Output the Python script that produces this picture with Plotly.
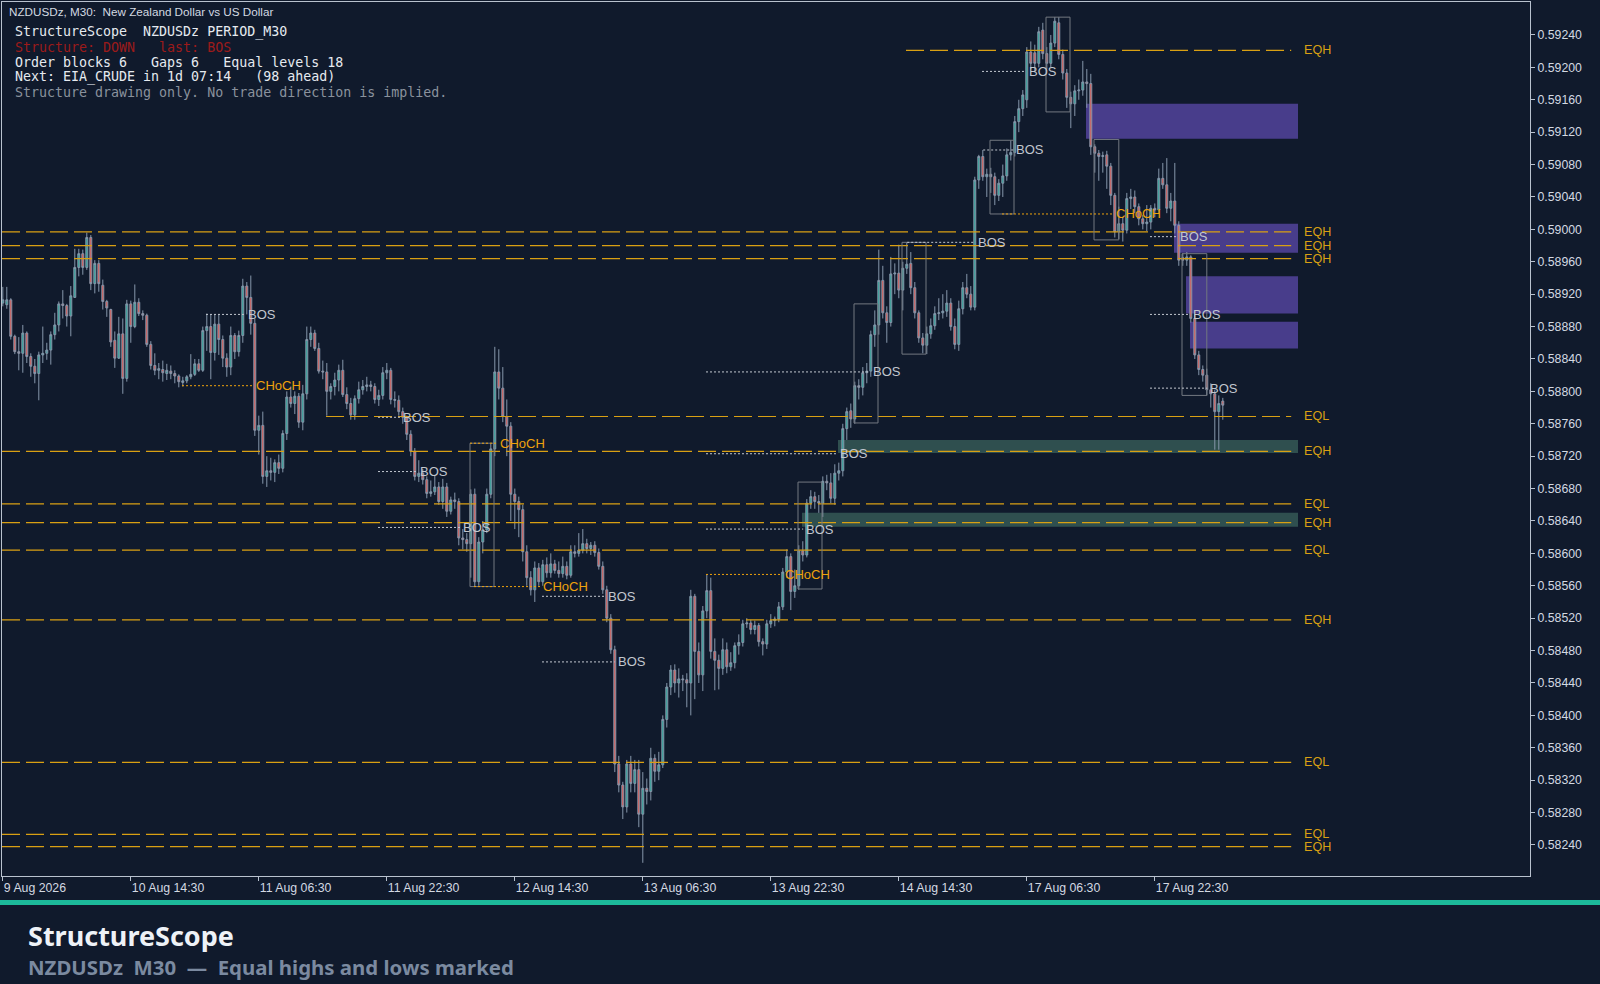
import plotly.graph_objects as go

# ---- look ----
BG = "#101a2c"
BULL = "#2aa597"
BEAR = "#e0584f"
WICK = "#8797ab"
EQ_COL = "#d9a013"
CHOCH_COL = "#eea20c"
BOS_COL = "#c2c7cf"
BOX_COL = "#737880"
AXIS_COL = "#b9c2cf"
TEXT_COL = "#d3d9e2"

W, H = 1600, 984
L_M, R_M, T_M, B_M = 2, 70, 2, 108
PW, PH = W - L_M - R_M, H - T_M - B_M

# ---- NZDUSDz M30 candles (bar index 0 = 9 Aug 22:30) ----
open_ = [
    0.58909, 0.58907, 0.58913, 0.58868, 0.58849, 0.58847, 0.58872, 0.58843, 0.58831, 0.58822,
    0.58845, 0.58847, 0.58851, 0.58870, 0.58882, 0.58908, 0.58906, 0.58893, 0.58916, 0.58953,
    0.58970, 0.58953, 0.58990, 0.58933, 0.58958, 0.58931, 0.58911, 0.58901, 0.58863, 0.58841,
    0.58871, 0.58816, 0.58908, 0.58880, 0.58910, 0.58896, 0.58894, 0.58858, 0.58832, 0.58826,
    0.58827, 0.58822, 0.58825, 0.58822, 0.58819, 0.58811, 0.58813, 0.58818, 0.58821, 0.58834,
    0.58826, 0.58875, 0.58880, 0.58848, 0.58883, 0.58864, 0.58841, 0.58830, 0.58869, 0.58849,
    0.58869, 0.58930, 0.58916, 0.58884, 0.58752, 0.58758, 0.58695, 0.58702, 0.58700, 0.58712,
    0.58705, 0.58748, 0.58793, 0.58785, 0.58794, 0.58762, 0.58797, 0.58864, 0.58872, 0.58853,
    0.58825, 0.58824, 0.58800, 0.58806, 0.58814, 0.58826, 0.58796, 0.58785, 0.58771, 0.58791,
    0.58802, 0.58806, 0.58808, 0.58806, 0.58790, 0.58795, 0.58823, 0.58826, 0.58790, 0.58789,
    0.58775, 0.58768, 0.58747, 0.58726, 0.58695, 0.58699, 0.58691, 0.58674, 0.58676, 0.58682,
    0.58664, 0.58682, 0.58652, 0.58666, 0.58664, 0.58619, 0.58617, 0.58612, 0.58673, 0.58565,
    0.58614, 0.58629, 0.58673, 0.58729, 0.58824, 0.58804, 0.58769, 0.58757, 0.58673, 0.58664,
    0.58654, 0.58602, 0.58570, 0.58555, 0.58582, 0.58565, 0.58586, 0.58576, 0.58587, 0.58579,
    0.58575, 0.58584, 0.58573, 0.58602, 0.58600, 0.58604, 0.58612, 0.58606, 0.58610, 0.58601,
    0.58584, 0.58555, 0.58520, 0.58481, 0.58340, 0.58314, 0.58287, 0.58340, 0.58316, 0.58333,
    0.58278, 0.58310, 0.58306, 0.58347, 0.58331, 0.58339, 0.58395, 0.58435, 0.58456, 0.58440,
    0.58445, 0.58444, 0.58440, 0.58547, 0.58479, 0.58450, 0.58529, 0.58554, 0.58479, 0.58468,
    0.58458, 0.58481, 0.58460, 0.58465, 0.58486, 0.58490, 0.58513, 0.58514, 0.58506, 0.58511,
    0.58491, 0.58488, 0.58513, 0.58517, 0.58519, 0.58534, 0.58577, 0.58596, 0.58553, 0.58560,
    0.58603, 0.58598, 0.58662, 0.58670, 0.58664, 0.58662, 0.58689, 0.58687, 0.58668, 0.58699,
    0.58702, 0.58754, 0.58776, 0.58766, 0.58807, 0.58805, 0.58823, 0.58825, 0.58870, 0.58882,
    0.58937, 0.58897, 0.58885, 0.58945, 0.58946, 0.58925, 0.58952, 0.58958, 0.58928, 0.58897,
    0.58866, 0.58857, 0.58871, 0.58881, 0.58896, 0.58897, 0.58899, 0.58909, 0.58880, 0.58858,
    0.58902, 0.58928, 0.58920, 0.58904, 0.59061, 0.59090, 0.59065, 0.59068, 0.59065, 0.59042,
    0.59057, 0.59066, 0.59092, 0.59095, 0.59133, 0.59149, 0.59160, 0.59219, 0.59218, 0.59205,
    0.59246, 0.59217, 0.59205, 0.59230, 0.59255, 0.59216, 0.59193, 0.59163, 0.59155, 0.59171,
    0.59172, 0.59182, 0.59180, 0.59102, 0.59094, 0.59090, 0.59092, 0.59078, 0.59042, 0.58997,
    0.59007, 0.58999, 0.59038, 0.59040, 0.59028, 0.59013, 0.59007, 0.59009, 0.59026, 0.59024,
    0.59063, 0.59055, 0.59026, 0.59035, 0.59005, 0.58965, 0.58962, 0.58966, 0.58890, 0.58845,
    0.58827, 0.58820, 0.58802, 0.58797, 0.58775, 0.58788,
]
high = [
    0.58929, 0.58929, 0.58915, 0.58870, 0.58867, 0.58882, 0.58874, 0.58847, 0.58840, 0.58849,
    0.58880, 0.58860, 0.58874, 0.58897, 0.58911, 0.58925, 0.58908, 0.58930, 0.58976, 0.58976,
    0.58975, 0.58996, 0.58993, 0.58962, 0.58962, 0.58938, 0.58913, 0.58902, 0.58874, 0.58892,
    0.58890, 0.58913, 0.58912, 0.58932, 0.58915, 0.58900, 0.58896, 0.58862, 0.58847, 0.58835,
    0.58838, 0.58834, 0.58832, 0.58826, 0.58821, 0.58818, 0.58820, 0.58846, 0.58840, 0.58840,
    0.58880, 0.58896, 0.58895, 0.58895, 0.58895, 0.58869, 0.58847, 0.58880, 0.58872, 0.58875,
    0.58939, 0.58935, 0.58943, 0.58890, 0.58770, 0.58775, 0.58720, 0.58718, 0.58716, 0.58722,
    0.58752, 0.58800, 0.58806, 0.58800, 0.58798, 0.58808, 0.58880, 0.58880, 0.58876, 0.58860,
    0.58838, 0.58835, 0.58810, 0.58823, 0.58833, 0.58839, 0.58805, 0.58792, 0.58795, 0.58812,
    0.58814, 0.58818, 0.58813, 0.58810, 0.58802, 0.58830, 0.58835, 0.58829, 0.58800, 0.58795,
    0.58780, 0.58770, 0.58752, 0.58730, 0.58715, 0.58704, 0.58695, 0.58690, 0.58696, 0.58688,
    0.58692, 0.58687, 0.58670, 0.58675, 0.58668, 0.58630, 0.58625, 0.58679, 0.58680, 0.58620,
    0.58640, 0.58680, 0.58735, 0.58855, 0.58852, 0.58830, 0.58790, 0.58762, 0.58680, 0.58670,
    0.58660, 0.58610, 0.58578, 0.58590, 0.58588, 0.58592, 0.58595, 0.58600, 0.58592, 0.58590,
    0.58596, 0.58590, 0.58610, 0.58610, 0.58625, 0.58630, 0.58618, 0.58614, 0.58615, 0.58606,
    0.58590, 0.58560, 0.58525, 0.58486, 0.58350, 0.58318, 0.58345, 0.58350, 0.58345, 0.58345,
    0.58330, 0.58322, 0.58360, 0.58352, 0.58355, 0.58400, 0.58440, 0.58462, 0.58463, 0.58458,
    0.58450, 0.58452, 0.58555, 0.58550, 0.58490, 0.58535, 0.58574, 0.58570, 0.58495, 0.58475,
    0.58495, 0.58490, 0.58478, 0.58490, 0.58500, 0.58518, 0.58520, 0.58518, 0.58517, 0.58514,
    0.58495, 0.58518, 0.58525, 0.58522, 0.58540, 0.58582, 0.58605, 0.58600, 0.58580, 0.58610,
    0.58615, 0.58667, 0.58678, 0.58676, 0.58672, 0.58695, 0.58697, 0.58699, 0.58710, 0.58712,
    0.58760, 0.58780, 0.58785, 0.58812, 0.58815, 0.58830, 0.58835, 0.58875, 0.58900, 0.58975,
    0.58955, 0.58905, 0.58966, 0.58958, 0.58981, 0.58960, 0.58984, 0.58972, 0.58935, 0.58900,
    0.58872, 0.58880, 0.58890, 0.58905, 0.58915, 0.58920, 0.58925, 0.58915, 0.58890, 0.58912,
    0.58935, 0.58945, 0.58930, 0.59065, 0.59092, 0.59098, 0.59075, 0.59076, 0.59070, 0.59062,
    0.59080, 0.59100, 0.59110, 0.59140, 0.59160, 0.59172, 0.59225, 0.59232, 0.59228, 0.59250,
    0.59255, 0.59225, 0.59240, 0.59262, 0.59262, 0.59222, 0.59198, 0.59170, 0.59178, 0.59185,
    0.59208, 0.59198, 0.59192, 0.59105, 0.59098, 0.59096, 0.59097, 0.59082, 0.59045, 0.59028,
    0.59015, 0.59045, 0.59050, 0.59048, 0.59032, 0.59018, 0.59030, 0.59030, 0.59032, 0.59075,
    0.59082, 0.59088, 0.59045, 0.59082, 0.59010, 0.58970, 0.58972, 0.58968, 0.58895, 0.58850,
    0.58832, 0.58828, 0.58810, 0.58802, 0.58795, 0.58792,
]
low = [
    0.58905, 0.58902, 0.58864, 0.58846, 0.58826, 0.58823, 0.58835, 0.58818, 0.58810, 0.58789,
    0.58835, 0.58839, 0.58833, 0.58864, 0.58874, 0.58890, 0.58880, 0.58868, 0.58916, 0.58942,
    0.58944, 0.58950, 0.58925, 0.58921, 0.58923, 0.58901, 0.58892, 0.58855, 0.58829, 0.58840,
    0.58797, 0.58812, 0.58860, 0.58878, 0.58893, 0.58888, 0.58855, 0.58827, 0.58820, 0.58815,
    0.58812, 0.58814, 0.58815, 0.58810, 0.58805, 0.58806, 0.58810, 0.58815, 0.58819, 0.58824,
    0.58824, 0.58850, 0.58815, 0.58838, 0.58845, 0.58830, 0.58818, 0.58820, 0.58840, 0.58843,
    0.58860, 0.58895, 0.58870, 0.58745, 0.58722, 0.58686, 0.58682, 0.58690, 0.58688, 0.58698,
    0.58700, 0.58740, 0.58780, 0.58772, 0.58755, 0.58752, 0.58790, 0.58855, 0.58850, 0.58822,
    0.58815, 0.58770, 0.58790, 0.58795, 0.58800, 0.58793, 0.58778, 0.58765, 0.58765, 0.58785,
    0.58796, 0.58800, 0.58800, 0.58785, 0.58782, 0.58790, 0.58815, 0.58784, 0.58780, 0.58770,
    0.58760, 0.58740, 0.58720, 0.58690, 0.58688, 0.58685, 0.58668, 0.58670, 0.58672, 0.58660,
    0.58655, 0.58645, 0.58648, 0.58655, 0.58610, 0.58605, 0.58602, 0.58570, 0.58559, 0.58560,
    0.58600, 0.58625, 0.58668, 0.58720, 0.58790, 0.58762, 0.58720, 0.58640, 0.58630, 0.58620,
    0.58590, 0.58560, 0.58548, 0.58540, 0.58560, 0.58560, 0.58570, 0.58570, 0.58575, 0.58570,
    0.58570, 0.58568, 0.58570, 0.58595, 0.58596, 0.58600, 0.58600, 0.58598, 0.58596, 0.58580,
    0.58550, 0.58515, 0.58476, 0.58330, 0.58305, 0.58272, 0.58280, 0.58305, 0.58305, 0.58262,
    0.58218, 0.58290, 0.58295, 0.58318, 0.58320, 0.58335, 0.58385, 0.58425, 0.58428, 0.58422,
    0.58430, 0.58410, 0.58400, 0.58420, 0.58440, 0.58430, 0.58520, 0.58470, 0.58431, 0.58432,
    0.58450, 0.58452, 0.58455, 0.58458, 0.58475, 0.58485, 0.58508, 0.58500, 0.58500, 0.58485,
    0.58474, 0.58482, 0.58508, 0.58510, 0.58515, 0.58530, 0.58570, 0.58530, 0.58545, 0.58555,
    0.58590, 0.58595, 0.58655, 0.58655, 0.58650, 0.58645, 0.58678, 0.58662, 0.58660, 0.58690,
    0.58695, 0.58740, 0.58755, 0.58760, 0.58790, 0.58795, 0.58810, 0.58818, 0.58855, 0.58870,
    0.58890, 0.58860, 0.58880, 0.58920, 0.58915, 0.58900, 0.58945, 0.58920, 0.58890, 0.58860,
    0.58847, 0.58846, 0.58865, 0.58876, 0.58888, 0.58890, 0.58892, 0.58875, 0.58852, 0.58850,
    0.58895, 0.58915, 0.58900, 0.58900, 0.59050, 0.59060, 0.59040, 0.59045, 0.59030, 0.59035,
    0.59040, 0.59060, 0.59085, 0.59090, 0.59120, 0.59140, 0.59150, 0.59198, 0.59195, 0.59200,
    0.59210, 0.59198, 0.59200, 0.59225, 0.59210, 0.59185, 0.59150, 0.59125, 0.59140, 0.59160,
    0.59165, 0.59150, 0.59092, 0.59070, 0.59060, 0.59070, 0.59050, 0.59030, 0.58990, 0.58988,
    0.58985, 0.58995, 0.59025, 0.59020, 0.59005, 0.59000, 0.58998, 0.59000, 0.59015, 0.59020,
    0.59050, 0.59020, 0.59010, 0.58995, 0.58955, 0.58955, 0.58955, 0.58885, 0.58840, 0.58820,
    0.58812, 0.58795, 0.58780, 0.58728, 0.58728, 0.58765,
]
close = [
    0.58913, 0.58913, 0.58868, 0.58849, 0.58847, 0.58872, 0.58843, 0.58831, 0.58822, 0.58845,
    0.58847, 0.58851, 0.58870, 0.58882, 0.58908, 0.58906, 0.58893, 0.58918, 0.58953, 0.58970,
    0.58953, 0.58990, 0.58933, 0.58958, 0.58933, 0.58911, 0.58903, 0.58861, 0.58841, 0.58871,
    0.58816, 0.58908, 0.58880, 0.58910, 0.58896, 0.58894, 0.58858, 0.58832, 0.58826, 0.58828,
    0.58823, 0.58826, 0.58822, 0.58819, 0.58812, 0.58813, 0.58818, 0.58821, 0.58834, 0.58826,
    0.58875, 0.58880, 0.58848, 0.58883, 0.58864, 0.58841, 0.58830, 0.58869, 0.58849, 0.58869,
    0.58930, 0.58916, 0.58884, 0.58752, 0.58758, 0.58695, 0.58702, 0.58700, 0.58712, 0.58705,
    0.58748, 0.58793, 0.58785, 0.58794, 0.58762, 0.58797, 0.58864, 0.58872, 0.58853, 0.58825,
    0.58824, 0.58800, 0.58806, 0.58814, 0.58826, 0.58796, 0.58785, 0.58771, 0.58791, 0.58802,
    0.58806, 0.58808, 0.58806, 0.58790, 0.58795, 0.58823, 0.58826, 0.58790, 0.58789, 0.58775,
    0.58768, 0.58747, 0.58726, 0.58695, 0.58699, 0.58691, 0.58674, 0.58676, 0.58682, 0.58664,
    0.58682, 0.58652, 0.58666, 0.58664, 0.58619, 0.58617, 0.58612, 0.58673, 0.58565, 0.58614,
    0.58629, 0.58673, 0.58729, 0.58824, 0.58804, 0.58769, 0.58757, 0.58673, 0.58664, 0.58654,
    0.58602, 0.58570, 0.58555, 0.58582, 0.58565, 0.58586, 0.58576, 0.58587, 0.58579, 0.58575,
    0.58584, 0.58573, 0.58602, 0.58600, 0.58604, 0.58612, 0.58606, 0.58610, 0.58601, 0.58584,
    0.58555, 0.58520, 0.58481, 0.58340, 0.58314, 0.58287, 0.58340, 0.58316, 0.58333, 0.58278,
    0.58310, 0.58306, 0.58347, 0.58331, 0.58339, 0.58395, 0.58435, 0.58456, 0.58440, 0.58445,
    0.58444, 0.58440, 0.58547, 0.58479, 0.58450, 0.58529, 0.58554, 0.58479, 0.58468, 0.58458,
    0.58481, 0.58460, 0.58465, 0.58486, 0.58490, 0.58513, 0.58514, 0.58506, 0.58511, 0.58491,
    0.58488, 0.58513, 0.58517, 0.58519, 0.58534, 0.58577, 0.58596, 0.58553, 0.58560, 0.58603,
    0.58598, 0.58662, 0.58670, 0.58664, 0.58662, 0.58689, 0.58687, 0.58668, 0.58699, 0.58702,
    0.58754, 0.58775, 0.58766, 0.58807, 0.58805, 0.58823, 0.58825, 0.58870, 0.58882, 0.58937,
    0.58897, 0.58885, 0.58945, 0.58946, 0.58925, 0.58952, 0.58957, 0.58928, 0.58897, 0.58866,
    0.58857, 0.58871, 0.58881, 0.58896, 0.58897, 0.58899, 0.58909, 0.58880, 0.58858, 0.58902,
    0.58928, 0.58920, 0.58904, 0.59061, 0.59090, 0.59065, 0.59068, 0.59065, 0.59042, 0.59057,
    0.59066, 0.59092, 0.59095, 0.59133, 0.59149, 0.59166, 0.59219, 0.59205, 0.59205, 0.59244,
    0.59217, 0.59205, 0.59230, 0.59257, 0.59216, 0.59193, 0.59163, 0.59155, 0.59171, 0.59172,
    0.59182, 0.59180, 0.59102, 0.59094, 0.59090, 0.59091, 0.59078, 0.59042, 0.58997, 0.59007,
    0.58999, 0.59038, 0.59040, 0.59028, 0.59013, 0.59007, 0.59009, 0.59026, 0.59024, 0.59063,
    0.59055, 0.59026, 0.59035, 0.59005, 0.58962, 0.58962, 0.58966, 0.58890, 0.58845, 0.58827,
    0.58820, 0.58802, 0.58797, 0.58775, 0.58785, 0.58783,
]

tick_bars = [0, 32, 64, 96, 128, 160, 192, 224, 256, 288]
tick_text = ["9 Aug 2026", "10 Aug 14:30", "11 Aug 06:30", "11 Aug 22:30", "12 Aug 14:30",
             "13 Aug 06:30", "13 Aug 22:30", "14 Aug 14:30", "17 Aug 06:30", "17 Aug 22:30"]
price_ticks = [0.58240, 0.58280, 0.58320, 0.58360, 0.58400, 0.58440, 0.58480, 0.58520,
               0.58560, 0.58600, 0.58640, 0.58680, 0.58720, 0.58760, 0.58800, 0.58840,
               0.58880, 0.58920, 0.58960, 0.59000, 0.59040, 0.59080, 0.59120, 0.59160,
               0.59200, 0.59240]

# equal highs / lows (price, label, first bar of the line)
eq_price = [0.59221, 0.58997, 0.58980, 0.58964, 0.58769, 0.58726, 0.58661,
            0.58638, 0.58604, 0.58518, 0.58342, 0.58253, 0.58238]
eq_label = ["EQH", "EQH", "EQH", "EQH", "EQL", "EQH", "EQL",
            "EQH", "EQL", "EQH", "EQL", "EQL", "EQH"]
eq_from = [225.8, -0.2, -0.2, -0.2, 80.8, -0.2, -0.2,
           -0.2, -0.2, -0.2, -0.2, -0.2, -0.2]
EQ_END, EQ_TEXT = 322.1, 324.8

# structure breaks: kind, level, swing bar, break bar
st_kind = ["BOS", "CHoCH", "BOS", "BOS", "CHoCH", "BOS", "CHoCH", "BOS", "BOS", "CHoCH",
           "BOS", "BOS", "BOS", "BOS", "BOS", "BOS", "CHoCH", "BOS", "BOS", "BOS"]
st_level = [0.58895, 0.58807, 0.58768, 0.58701, 0.58736, 0.58632, 0.58559, 0.58547, 0.58466,
            0.58574, 0.58630, 0.58723, 0.58824, 0.58984, 0.59098, 0.59195, 0.59019, 0.58991,
            0.58895, 0.58804]
st_from = [50.8, 44.8, 93.8, 93.8, 116.8, 93.8, 117.8, 134.8, 134.8, 175.8,
           175.8, 175.8, 175.8, 226.1, 245.1, 244.8, 249.8, 286.8, 286.8, 286.8]
st_to = [60.6, 62.5, 99.3, 103.6, 123.6, 114.3, 134.3, 150.6, 153.0, 194.8,
         200.1, 208.6, 216.8, 243.1, 252.6, 255.8, 277.6, 293.6, 296.8, 301.1]

# order block outlines
ob_from = [260.8, 246.8, 272.8, 294.8, 212.8, 224.8, 198.8, 116.8]
ob_to = [266.8, 252.8, 279.0, 301.0, 218.8, 230.8, 204.8, 122.8]
ob_top = [0.59262, 0.59110, 0.59111, 0.58970, 0.58908, 0.58984, 0.58688, 0.58736]
ob_bot = [0.59145, 0.59019, 0.58987, 0.58795, 0.58761, 0.58846, 0.58556, 0.58559]

# gaps: bearish (purple) and bullish (green)
bear_from = [270.8, 292.8, 295.8, 296.8]
bear_top = [0.59155, 0.59007, 0.58942, 0.58886]
bear_bot = [0.59112, 0.58971, 0.58896, 0.58853]
bull_from = [208.8, 199.8]
bull_top = [0.58740, 0.58650]
bull_bot = [0.58724, 0.58633]
ZONE_END = 323.8

info_lines = [
    ("StructureScope  NZDUSDz PERIOD_M30", "#e6eaf0"),
    ("Structure: DOWN   last: BOS", "#9c1a1a"),
    ("Order blocks 6   Gaps 6   Equal levels 18", "#e6eaf0"),
    ("Next: EIA_CRUDE in 1d 07:14   (98 ahead)", "#e6eaf0"),
    ("Structure drawing only. No trade direction is implied.", "#8a929d"),
]


def px(x, y):
    return (x - L_M) / PW, 1 - (y - T_M) / PH


def nb(s):
    return s.replace(" ", "\u00a0")


bars = list(range(len(close)))
fig = go.Figure(go.Candlestick(
    x=bars, open=open_, high=high, low=low, close=close,
    increasing=dict(line=dict(color=WICK, width=1), fillcolor=BULL),
    decreasing=dict(line=dict(color=WICK, width=1), fillcolor=BEAR),
    whiskerwidth=0, hoverinfo="skip", showlegend=False,
))

shapes, notes = [], []

for x0, t, b in zip(bear_from, bear_top, bear_bot):
    shapes.append(dict(type="rect", x0=x0, x1=ZONE_END, y0=b, y1=t, layer="below",
                       fillcolor="#483d8b", line=dict(width=0)))
for x0, t, b in zip(bull_from, bull_top, bull_bot):
    shapes.append(dict(type="rect", x0=x0, x1=ZONE_END, y0=b, y1=t, layer="below",
                       fillcolor="#2f4f4f", line=dict(width=0)))

for p, lab, x0 in zip(eq_price, eq_label, eq_from):
    shapes.append(dict(type="line", x0=x0, x1=EQ_END, y0=p, y1=p,
                       line=dict(color=EQ_COL, width=1.2, dash="18px,6px")))
    notes.append(dict(x=EQ_TEXT, y=p, text=lab, showarrow=False, xanchor="left",
                      yanchor="middle", font=dict(family="Liberation Sans", size=12.6, color=EQ_COL)))

for x0, x1, t, b in zip(ob_from, ob_to, ob_top, ob_bot):
    shapes.append(dict(type="rect", x0=x0, x1=x1, y0=b, y1=t,
                       line=dict(color=BOX_COL, width=1), fillcolor="rgba(0,0,0,0)"))

for k, lvl, x0, x1 in zip(st_kind, st_level, st_from, st_to):
    col = CHOCH_COL if k == "CHoCH" else BOS_COL
    shapes.append(dict(type="line", x0=x0, x1=x1, y0=lvl, y1=lvl,
                       line=dict(color=col, width=1, dash="2px,2px")))
    notes.append(dict(x=x1, y=lvl, text=k, showarrow=False, xanchor="left", yanchor="middle",
                      xshift=1, font=dict(family="Liberation Sans", size=13, color=col)))

# header + info panel
hx, hy = px(7, 11)
notes.append(dict(x=hx, y=hy, xref="paper", yref="paper", xanchor="left", yanchor="middle",
                  showarrow=False, text=nb("NZDUSDz, M30:  New Zealand Dollar vs US Dollar"),
                  font=dict(family="Liberation Sans", size=11.7, color=TEXT_COL)))
for i, (txt, col) in enumerate(info_lines):
    ix, iy = px(13, 32 + 15 * i)
    notes.append(dict(x=ix, y=iy, xref="paper", yref="paper", xanchor="left", yanchor="middle",
                      showarrow=False, text=nb(txt),
                      font=dict(family="DejaVu Sans Mono", size=13.3, color=col)))

# footer band and titles
bx0, by0 = px(0, 900)
bx1, by1 = px(W, 905)
shapes.append(dict(type="rect", xref="paper", yref="paper", x0=bx0, x1=bx1, y0=by1, y1=by0,
                   fillcolor="#1cb99a", line=dict(width=0)))
tx, ty = px(26, 935)
notes.append(dict(x=tx, y=ty, xref="paper", yref="paper", xanchor="left", yanchor="middle",
                  showarrow=False, text="<b>StructureScope</b>",
                  font=dict(family="Noto Sans", size=27, color="#eef2f7")))
sx, sy = px(26, 967)
notes.append(dict(x=sx, y=sy, xref="paper", yref="paper", xanchor="left", yanchor="middle",
                  showarrow=False, text="<b>" + nb("NZDUSDz  M30  —  Equal highs and lows marked") + "</b>",
                  font=dict(family="Noto Sans", size=20.4, color="#7b8aa0")))

fig.update_layout(
    width=W, height=H, margin=dict(l=L_M, r=R_M, t=T_M, b=B_M),
    paper_bgcolor=BG, plot_bgcolor=BG, shapes=shapes, annotations=notes,
    showlegend=False,
    xaxis=dict(range=[-0.2, 381.8], rangeslider=dict(visible=False), showgrid=False,
               zeroline=False, showline=True, mirror=True, linecolor=AXIS_COL, linewidth=1,
               tickmode="array", tickvals=tick_bars, ticktext=tick_text, ticks="outside",
               ticklen=4, tickcolor=AXIS_COL, ticklabelposition="outside right",
               tickfont=dict(family="Liberation Sans", size=12.3, color=TEXT_COL)),
    yaxis=dict(range=[0.582017, 0.592807], side="right", showgrid=False, zeroline=False,
               showline=True, mirror=True, linecolor=AXIS_COL, linewidth=1,
               tickmode="array", tickvals=price_ticks, tickformat=".5f", ticks="outside",
               ticklen=4, tickcolor=AXIS_COL,
               tickfont=dict(family="Liberation Sans", size=12.3, color=TEXT_COL)),
)

# page body has a default 8px margin; drop it so the figure sits at the window corner
fig.write_html("out.html", config={"displayModeBar": False}, post_script=(
    "document.body.style.margin='0';document.body.style.background='" + BG + "';"
    "document.body.style.overflow='hidden';"))
